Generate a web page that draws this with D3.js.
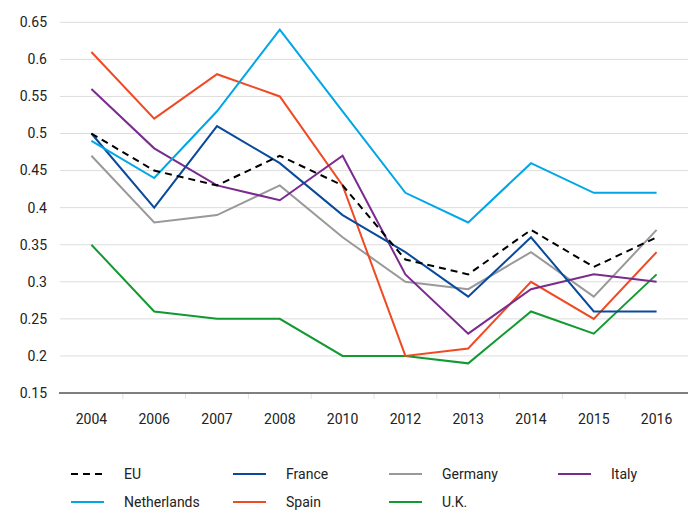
<!DOCTYPE html>
<html><head><meta charset="utf-8">
<script src="https://cdn.jsdelivr.net/npm/d3@7"></script>
<style>body{margin:0;background:#fff}svg{display:block}text{font-family:Roboto,"Liberation Sans",sans-serif;fill:#222}</style>
</head><body><svg id="c" width="690" height="523"></svg>
<script>
const years = ["2004","2006","2007","2008","2010","2012","2013","2014","2015","2016"];
const yTicks = [0.15,0.2,0.25,0.3,0.35,0.4,0.45,0.5,0.55,0.6,0.65];
const seriesNames = ["EU","France","Germany","Italy","Netherlands","Spain","U.K."];
const EU = [0.50,0.45,0.43,0.47,0.43,0.33,0.31,0.37,0.32,0.36];
const France = [0.50,0.40,0.51,0.46,0.39,0.34,0.28,0.36,0.26,0.26];
const Germany = [0.47,0.38,0.39,0.43,0.36,0.30,0.29,0.34,0.28,0.37];
const Italy = [0.56,0.48,0.43,0.41,0.47,0.31,0.23,0.29,0.31,0.30];
const Netherlands = [0.49,0.44,0.53,0.64,0.53,0.42,0.38,0.46,0.42,0.42];
const Spain = [0.61,0.52,0.58,0.55,0.43,0.20,0.21,0.30,0.25,0.34];
const UK = [0.35,0.26,0.25,0.25,0.20,0.20,0.19,0.26,0.23,0.31];
const colors = ["#000000","#0a4a9c","#999999","#7b2a8f","#00a6e6","#f04a23","#129a30"];
const values = [EU,France,Germany,Italy,Netherlands,Spain,UK];

const svg = d3.select("#c");
const x = d3.scaleBand().domain(years).range([60,688]);
const y = d3.scaleLinear().domain([0.15,0.65]).range([393,22.3]);

// gridlines
svg.append("g").selectAll("line").data(yTicks.slice(1)).join("line")
  .attr("x1",60).attr("x2",688).attr("y1",d=>y(d)).attr("y2",d=>y(d))
  .attr("stroke","#dddddd").attr("stroke-width",1);

// y labels
svg.append("g").selectAll("text").data(yTicks).join("text")
  .attr("x",47).attr("y",d=>y(d)).attr("dy","0.35em").attr("text-anchor","end")
  .attr("font-size",14).text(d=>d);

// x axis
const xa = svg.append("g").attr("transform","translate(0,393)")
  .call(d3.axisBottom(x).tickSize(0).tickPadding(21));
xa.select(".domain").remove();
xa.selectAll("text").attr("font-size",14).style("font-family","Roboto,'Liberation Sans',sans-serif").attr("fill","#222");
svg.append("g").selectAll("line").data(years.slice(1)).join("line")
  .attr("x1",d=>x(d)).attr("x2",d=>x(d)).attr("y1",393).attr("y2",399)
  .attr("stroke","#e2e2e2").attr("stroke-width",1);
svg.append("line").attr("x1",59).attr("x2",688).attr("y1",393).attr("y2",393)
  .attr("stroke","#555").attr("stroke-width",1.5);

const line = d3.line().x((d,i)=>x(years[i])+x.bandwidth()/2).y(d=>y(d));
const order = [2,6,5,3,1,4,0];
order.forEach(k=>{
  svg.append("path").attr("d",line(values[k])).attr("fill","none")
    .attr("stroke",colors[k]).attr("stroke-width",2)
    .attr("stroke-dasharray",k===0?"7,5":null);
});

// legend
const colX = [71,233,389,558];
const rowY = [474,502];
seriesNames.forEach((n,i)=>{
  const cx = colX[i%4], cy = rowY[Math.floor(i/4)];
  svg.append("line").attr("x1",cx).attr("x2",cx+33).attr("y1",cy).attr("y2",cy)
    .attr("stroke",colors[i]).attr("stroke-width",2).attr("stroke-dasharray",i===0?"7,5":null);
  svg.append("text").attr("x",cx+53).attr("y",cy).attr("dy","0.35em").attr("font-size",14).text(n);
});
</script></body></html>
